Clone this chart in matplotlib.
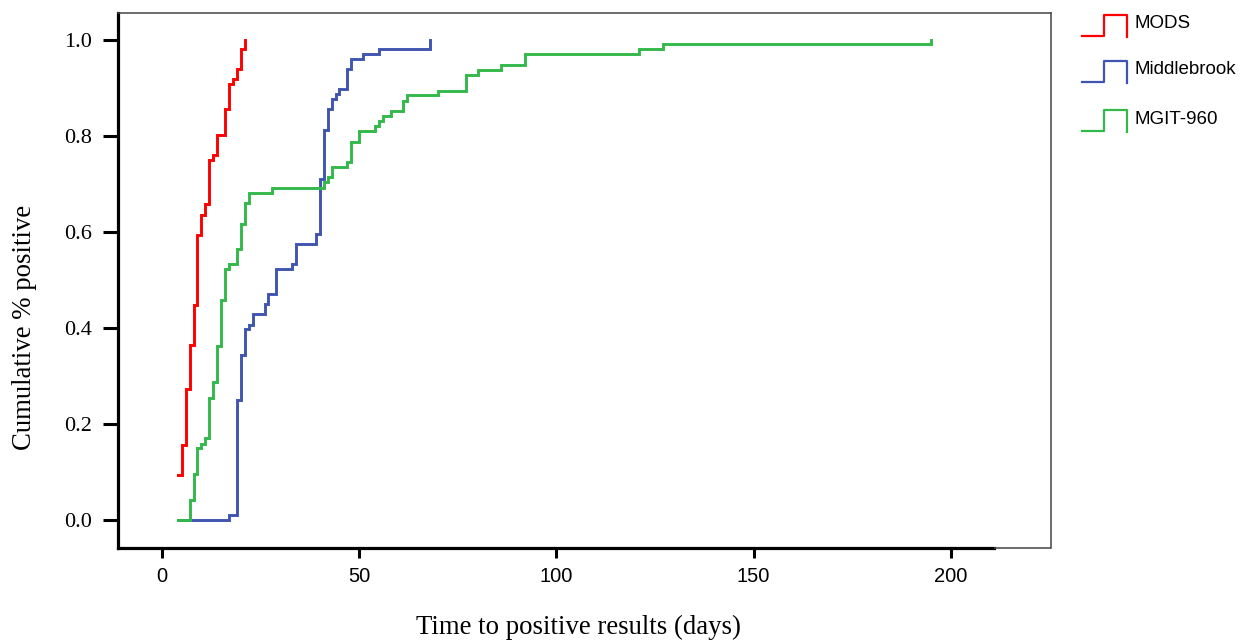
import matplotlib
matplotlib.use("Agg")
import matplotlib.pyplot as plt
from matplotlib.lines import Line2D
from matplotlib import font_manager

# ---- data ----
series_names = ["MODS", "Middlebrook", "MGIT-960"]

mods_days = [4, 5, 6, 7, 8, 9, 10, 11, 12, 13, 14, 16, 17, 18, 19, 20, 21]
mods_cum = [0.094, 0.157, 0.272, 0.365, 0.448, 0.594, 0.635, 0.657, 0.750,
            0.761, 0.802, 0.856, 0.908, 0.918, 0.939, 0.981, 1.0]

mb_days = [4, 17, 19, 20, 21, 22, 23, 26, 27, 29, 33, 34, 39, 40, 41, 42, 43,
           44, 45, 47, 48, 51, 55, 68]
mb_cum = [0.0, 0.011, 0.250, 0.344, 0.397, 0.407, 0.428, 0.449, 0.470, 0.522,
          0.532, 0.574, 0.595, 0.709, 0.813, 0.856, 0.877, 0.887, 0.897, 0.939,
          0.960, 0.970, 0.981, 1.0]

mgit_days = [4, 7, 8, 9, 10, 11, 12, 13, 14, 15, 16, 17, 19, 20, 21, 22, 28,
             41, 42, 43, 47, 48, 50, 54, 55, 56, 58, 61, 62, 70, 77, 80, 86,
             92, 121, 127, 195]
mgit_cum = [0.0, 0.042, 0.096, 0.149, 0.159, 0.170, 0.255, 0.288, 0.362, 0.458,
            0.522, 0.532, 0.565, 0.617, 0.660, 0.681, 0.692, 0.703, 0.714,
            0.735, 0.745, 0.787, 0.809, 0.820, 0.830, 0.841, 0.852, 0.873,
            0.884, 0.894, 0.926, 0.937, 0.948, 0.970, 0.981, 0.991, 1.0]

x_ticks = [0, 50, 100, 150, 200]
y_ticks = [0.0, 0.2, 0.4, 0.6, 0.8, 1.0]

colors = ["#FF0000", "#3F55AF", "#33B94A"]

# ---- fonts ----
avail = {f.name for f in font_manager.fontManager.ttflist}
serif = "Liberation Serif" if "Liberation Serif" in avail else "DejaVu Serif"
sans_narrow = "Liberation Sans Narrow" if "Liberation Sans Narrow" in avail else "Liberation Sans"
sans = "Liberation Sans" if "Liberation Sans" in avail else "DejaVu Sans"

W, H = 1240, 641
fig = plt.figure(figsize=(W / 100, H / 100), dpi=100)
L, R, T, B = 118, 1050.7, 13.3, 547.7
ax = fig.add_axes([L / W, 1 - B / H, (R - L) / W, (B - T) / H])

data = [(mods_days, mods_cum), (mb_days, mb_cum), (mgit_days, mgit_cum)]
for (d, v), c in zip(data, colors):
    ax.step(d, v, where="post", color=c, lw=2.1, solid_joinstyle="miter")

xmin, xmax = -11.15, 225.3
ymin, ymax = -0.0577, 1.055
ax.set_xlim(xmin, xmax)
ax.set_ylim(ymin, ymax)

ax.set_xticks(x_ticks)
ax.set_xticklabels([str(t) for t in x_ticks], family=sans_narrow, fontsize=14.5)
ax.set_yticks(y_ticks)
ax.set_yticklabels([f"{t:.1f}" for t in y_ticks], family=serif, fontsize=16)
ax.tick_params(axis="y", length=11, width=2.2, pad=8, color="black")
ax.tick_params(axis="x", length=7.5, width=2.2, pad=6.5, color="black")

for s in ["top", "right"]:
    ax.spines[s].set_color("#444444")
    ax.spines[s].set_linewidth(1.1)
ax.spines["left"].set_linewidth(2.3)
ax.spines["left"].set_color("black")
ax.spines["bottom"].set_linewidth(2.3)
ax.spines["bottom"].set_color("black")
ax.spines["bottom"].set_bounds(xmin, 211)
ax.plot([211, xmax], [ymin, ymin], color="#444444", lw=1.1, clip_on=False,
        solid_capstyle="butt", zorder=3)

fig.text(25 / W, 1 - 327 / H, "Cumulative % positive", rotation=90,
         ha="center", va="center", family=serif, fontsize=19.3)
fig.text(578 / W, 1 - 627 / H, "Time to positive results (days)",
         ha="center", va="center", family=serif, fontsize=19.3)

# ---- legend (outside, right) ----
leg_y_bottom = [36, 82, 131]
for name, c, yb in zip(series_names, colors, leg_y_bottom):
    xs = [1081.7, 1104.3, 1104.3, 1126.7, 1126.7]
    ys = [yb, yb, yb - 21, yb - 21, yb + 1]
    fig.add_artist(Line2D([x / W for x in xs], [1 - y / H for y in ys],
                          color=c, lw=1.6, transform=fig.transFigure))
    fig.text(1135 / W, 1 - (yb - 12) / H, name, ha="left", va="center",
             family=sans, fontsize=13.5)

fig.savefig("out.png", dpi=100)
